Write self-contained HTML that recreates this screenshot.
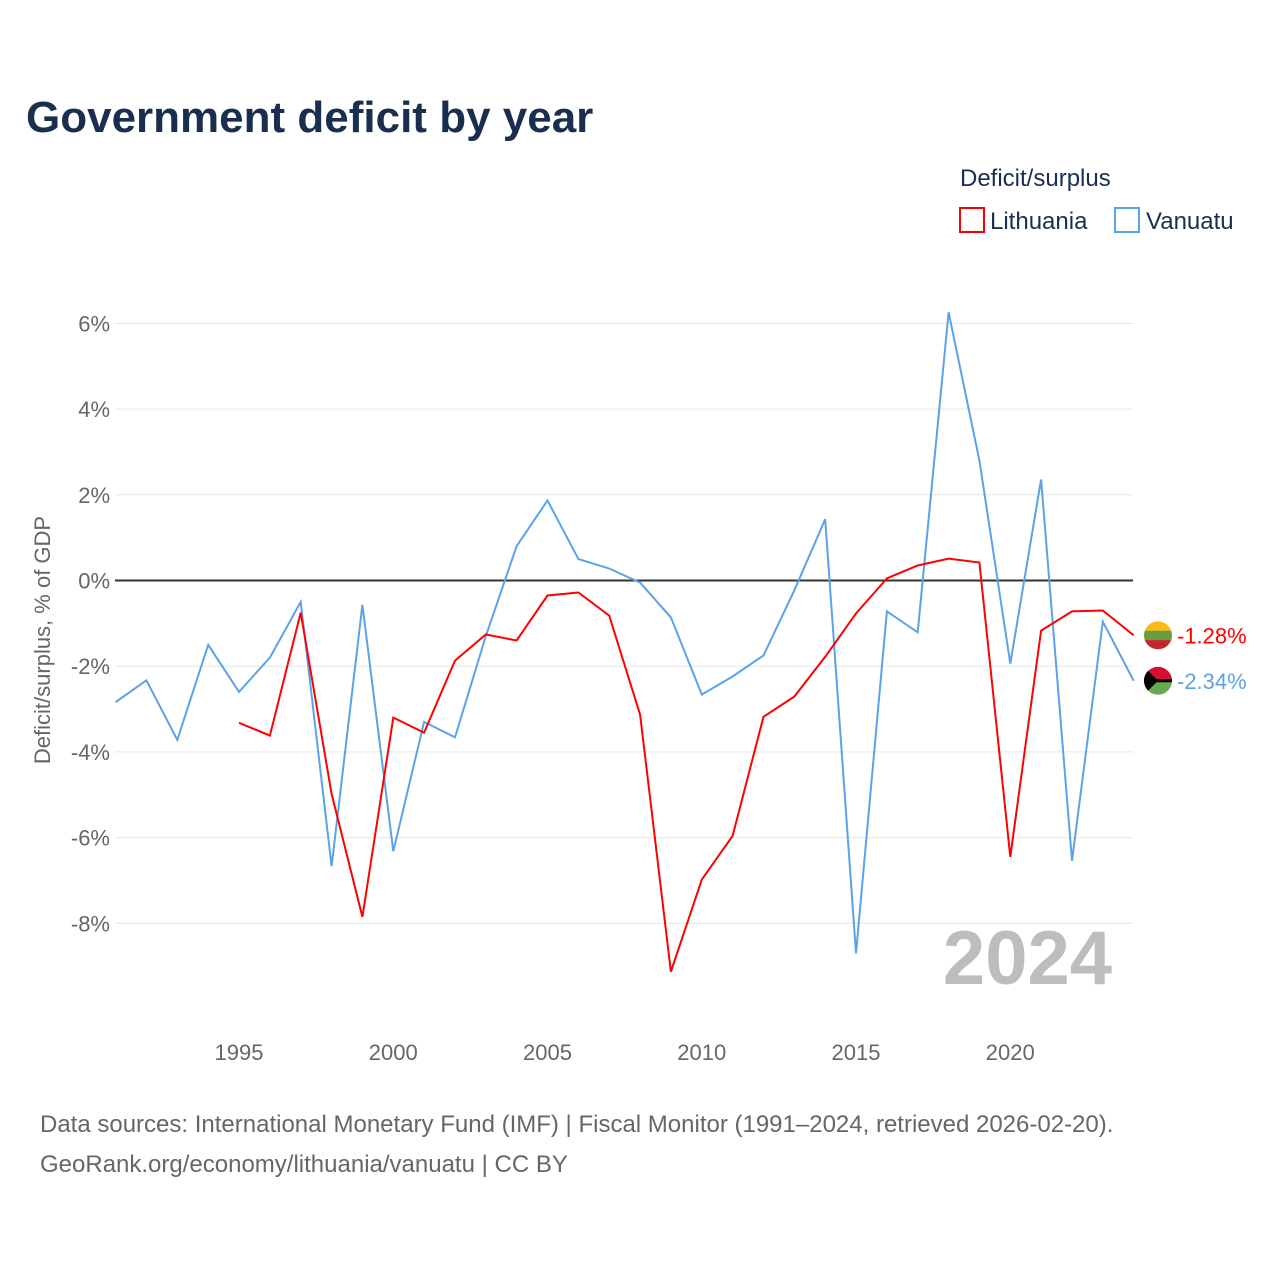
<!DOCTYPE html>
<html><head><meta charset="utf-8"><style>
body{margin:0;background:#fff;font-family:"Liberation Sans",sans-serif;}
svg text{font-family:"Liberation Sans",sans-serif;}
</style></head><body>
<svg id="chart" width="1280" height="1280" viewBox="0 0 1280 1280" xmlns="http://www.w3.org/2000/svg">
<defs><clipPath id="cl"><circle id="clc1" cx="1158" cy="634" r="14"/></clipPath><clipPath id="cv"><circle id="clc2" cx="1158" cy="681" r="14"/></clipPath></defs>
<rect width="1280" height="1280" fill="#fff"/>
<text x="26" y="132" font-size="44" font-weight="bold" fill="#1a2f4f">Government deficit by year</text>
<text x="960" y="186" font-size="24" fill="#1a2f4f">Deficit/surplus</text>
<g><rect x="960" y="208" width="24" height="24" fill="none" stroke="#ff0000" stroke-width="2"/><text x="990" y="229" font-size="24" fill="#1a2f4f">Lithuania</text></g>
<g><rect x="1115" y="208" width="24" height="24" fill="none" stroke="#5ba3e8" stroke-width="2"/><text x="1146" y="229" font-size="24" fill="#1a2f4f">Vanuatu</text></g>
<text transform="translate(50,640) rotate(-90)" text-anchor="middle" font-size="22" fill="#666">Deficit/surplus, % of GDP</text>
<g id="grid"></g>
<text x="1112" y="984" text-anchor="end" font-size="76" font-weight="bold" fill="#bdbdbd">2024</text>
<g id="series"></g>
<text x="40" y="1132" font-size="24" fill="#666">Data sources: International Monetary Fund (IMF) | Fiscal Monitor (1991–2024, retrieved 2026-02-20).</text>
<text x="40" y="1172" font-size="24" fill="#666">GeoRank.org/economy/lithuania/vanuatu | CC BY</text>
</svg>
<script>
const years=[];for(let y=1991;y<=2024;y++)years.push(y);
const vanuatu=[-2.84,-2.33,-3.72,-1.5,-2.6,-1.8,-0.5,-6.67,-0.57,-6.32,-3.3,-3.66,-1.3,0.8,1.87,0.5,0.28,-0.05,-0.86,-2.66,-2.24,-1.75,-0.23,1.43,-8.7,-0.72,-1.21,6.26,2.8,-1.94,2.36,-6.54,-0.96,-2.34];
const lithuania=[null,null,null,null,-3.32,-3.62,-0.75,-4.98,-7.85,-3.2,-3.55,-1.87,-1.26,-1.4,-0.35,-0.28,-0.82,-3.13,-9.13,-6.98,-5.96,-3.18,-2.71,-1.78,-0.77,0.05,0.35,0.51,0.42,-6.45,-1.17,-0.72,-0.7,-1.28];
const yTicks=[6,4,2,0,-2,-4,-6,-8];
const xTicks=[1995,2000,2005,2010,2015,2020];
const NS="http://www.w3.org/2000/svg";
const X=y=>115.6+(y-1991)*30.85;
const Y=v=>580.5-v*42.85;
function mk(tag,attrs,parent){const e=document.createElementNS(NS,tag);for(const k in attrs)e.setAttribute(k,attrs[k]);parent.appendChild(e);return e;}
const grid=document.getElementById('grid');
yTicks.forEach(t=>{
  const l=mk('line',{x1:115,x2:1133,y1:Y(t),y2:Y(t),stroke:t===0?'#333':'#e6e6e6','stroke-width':t===0?2:1},grid);
  
  
  const tx=mk('text',{x:110,y:Y(t)+8,'text-anchor':'end','font-size':22,fill:'#666'},grid);
  tx.textContent=t+'%';
  
  
});
xTicks.forEach(t=>{
  const tx=mk('text',{x:X(t),y:1060,'text-anchor':'middle','font-size':22,fill:'#666'},grid);
  tx.textContent=t;
  
  
});
const ser=document.getElementById('series');
function line(data,color,name){
  let d='';data.forEach((v,i)=>{if(v===null)return;d+=(d?'L':'M')+X(years[i]).toFixed(1)+','+Y(v).toFixed(1);});
  const p=mk('path',{d:d,fill:'none',stroke:color,'stroke-width':2},ser);
  
  
}
line(vanuatu,'#5ba3e8','vanuatu-line');
line(lithuania,'#ff0000','lithuania-line');
const lv=lithuania[lithuania.length-1],vv=vanuatu[vanuatu.length-1];
document.getElementById('clc1').setAttribute('cy',Y(lv));
document.getElementById('clc2').setAttribute('cy',Y(vv));
const lg=mk('g',{'clip-path':'url(#cl)'},ser);


mk('rect',{x:1144,y:Y(lv)-14,width:28,height:9.3,fill:'#fdb913'},lg);
mk('rect',{x:1144,y:Y(lv)-4.7,width:28,height:9.4,fill:'#6a9e3b'},lg);
mk('rect',{x:1144,y:Y(lv)+4.7,width:28,height:9.3,fill:'#c1272d'},lg);
const lt=mk('text',{x:1177,y:Y(lv)+8,'font-size':22,fill:'#ff0000'},ser);
lt.textContent=lv.toFixed(2)+'%';


const vg=mk('g',{'clip-path':'url(#cv)'},ser);


mk('rect',{x:1144,y:Y(vv)-14,width:28,height:14,fill:'#d21034'},vg);
mk('rect',{x:1144,y:Y(vv),width:28,height:14,fill:'#6aa84f'},vg);
mk('rect',{x:1144,y:Y(vv)-1.5,width:28,height:3,fill:'#000'},vg);
mk('path',{d:`M1144,${Y(vv)-14}L1158,${Y(vv)}L1144,${Y(vv)+14}Z`,fill:'#000'},vg);
const vt=mk('text',{x:1177,y:Y(vv)+8,'font-size':22,fill:'#5ba3e8'},ser);
vt.textContent=vv.toFixed(2)+'%';


</script>
</body></html>
